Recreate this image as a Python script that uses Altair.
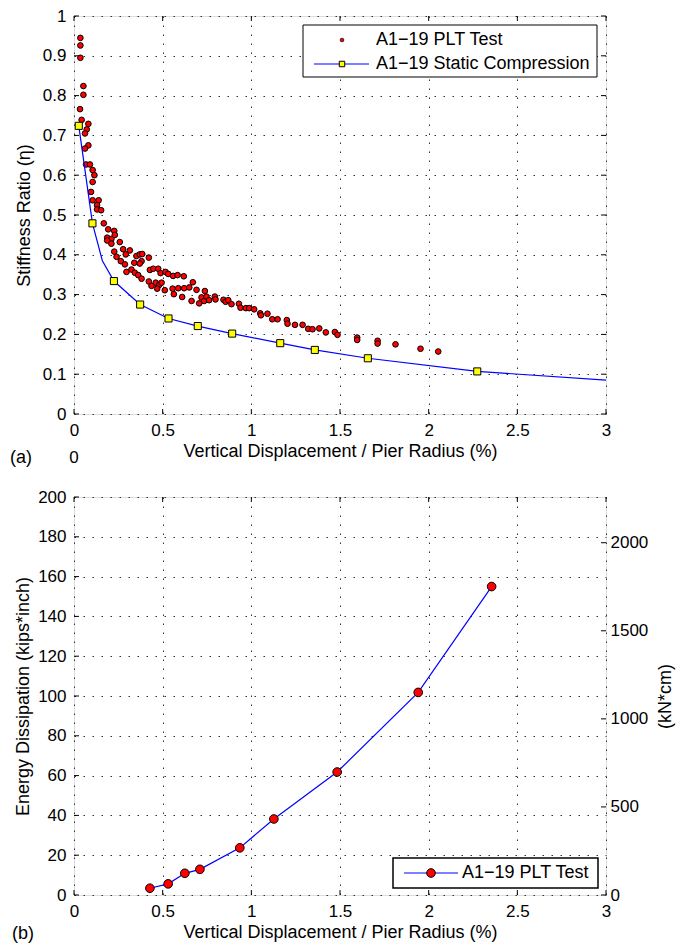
import altair as alt
import pandas as pd

# ---------------- data ----------------
plt_x = [
    0.036, 0.036, 0.036, 0.053, 0.053, 0.034, 0.043, 0.081, 0.072, 0.062,
    0.081, 0.062, 0.068, 0.090, 0.105, 0.115, 0.105, 0.096, 0.105, 0.139,
    0.130, 0.130, 0.153,
    0.168, 0.193, 0.227, 0.187, 0.211, 0.230, 0.187, 0.211, 0.258, 0.227,
    0.240, 0.277, 0.292, 0.315, 0.264, 0.287, 0.296, 0.324, 0.340, 0.352,
    0.371, 0.385, 0.381, 0.371, 0.422, 0.343, 0.362, 0.381, 0.422, 0.437,
    0.461, 0.480, 0.494, 0.469, 0.512, 0.428, 0.447, 0.475, 0.488, 0.516,
    0.531, 0.559, 0.584, 0.619, 0.556, 0.563, 0.588, 0.610, 0.621, 0.650,
    0.670, 0.663, 0.691, 0.706, 0.719, 0.738, 0.734, 0.747, 0.762, 0.794,
    0.798, 0.843, 0.855, 0.870, 0.888, 0.930, 0.939, 0.969, 0.988, 1.016,
    1.050, 1.054, 1.091, 1.118, 1.148, 1.200, 1.204, 1.246, 1.289, 1.321,
    1.345, 1.383, 1.420, 1.471, 1.486, 1.597, 1.597, 1.712, 1.712, 1.813,
    1.954, 2.054,
]
plt_y = [
    0.945, 0.926, 0.895, 0.824, 0.802, 0.766, 0.739, 0.729, 0.715, 0.705,
    0.675, 0.667, 0.627, 0.627, 0.613, 0.600, 0.583, 0.558, 0.537, 0.537,
    0.525, 0.514, 0.512,
    0.479, 0.464, 0.460, 0.443, 0.440, 0.450, 0.436, 0.428, 0.432, 0.408,
    0.395, 0.414, 0.401, 0.411, 0.384, 0.376, 0.357, 0.363, 0.380, 0.397,
    0.401, 0.402, 0.384, 0.378, 0.393, 0.355, 0.349, 0.340, 0.333, 0.322,
    0.330, 0.324, 0.330, 0.315, 0.311, 0.362, 0.365, 0.365, 0.354, 0.357,
    0.352, 0.347, 0.349, 0.346, 0.315, 0.301, 0.316, 0.294, 0.316, 0.318,
    0.331, 0.284, 0.312, 0.278, 0.293, 0.309, 0.284, 0.295, 0.286, 0.295,
    0.288, 0.287, 0.282, 0.286, 0.276, 0.277, 0.267, 0.266, 0.266, 0.263,
    0.253, 0.248, 0.252, 0.238, 0.238, 0.236, 0.227, 0.224, 0.224, 0.214,
    0.213, 0.215, 0.205, 0.206, 0.199, 0.192, 0.186, 0.184, 0.177, 0.175,
    0.164, 0.157,
]

static_x = [0.027, 0.104, 0.225, 0.373, 0.533, 0.698, 0.892, 1.163, 1.358, 1.657, 2.274]
static_y = [0.724, 0.479, 0.334, 0.275, 0.240, 0.221, 0.202, 0.178, 0.161, 0.140, 0.107]
# curve points without markers
static_curve_x = [0.16, 3.0]
static_curve_y = [0.385, 0.085]

energy_x = [0.428, 0.531, 0.625, 0.710, 0.935, 1.127, 1.484, 1.941, 2.355]
energy_y = [3.4, 5.6, 10.9, 12.9, 23.7, 38.2, 61.8, 101.8, 155.0]

x_ticks = [0, 0.5, 1, 1.5, 2, 2.5, 3]
top_y_ticks = [0, 0.1, 0.2, 0.3, 0.4, 0.5, 0.6, 0.7, 0.8, 0.9, 1]
bot_y_ticks = [0, 20, 40, 60, 80, 100, 120, 140, 160, 180, 200]
kn_ticks = [0, 500, 1000, 1500, 2000]
KIPIN_TO_KNCM = 11.298

legend_top = ["A1\u221219 PLT Test", "A1\u221219 Static Compression"]
legend_bot = ["A1\u221219 PLT Test"]
panel_tags = ["(a)", "(b)"]
x_title = "Vertical Displacement / Pier Radius (%)"

# ---------------- styling ----------------
W, H = 532, 398
FONT = "Liberation Sans"
TICK_FS = 17
TITLE_FS = 18
GRID = dict(grid=True, gridDash=[1.5, 7.5], gridColor="#333333", gridOpacity=1, gridWidth=1)

def axis(**kw):
    base = dict(ticks=False, domain=False, labelFontSize=TICK_FS, titleFontSize=TITLE_FS,
                titleFontWeight="normal", labelFont=FONT, titleFont=FONT,
                labelColor="black", titleColor="black", labelFlush=False, labelOverlap=False)
    base.update(kw)
    return alt.Axis(**base)

sx = alt.Scale(domain=[0, 3], nice=False, zero=False)
ax_x = axis(values=x_ticks, format="~g", title=x_title, labelPadding=8, titlePadding=4, **GRID)

one = pd.DataFrame({"k": [0]})
df_xt = pd.DataFrame({"x": x_ticks})


def X():
    return alt.X("x:Q", scale=sx, axis=ax_x)


def tick_layers(yenc_fn, ytick_vals, right=True):
    dfy = pd.DataFrame({"y": ytick_vals})
    layers = [
        alt.Chart(df_xt).mark_rule(color="black").encode(x=X(), y=alt.value(H), y2=alt.value(H - 5)),
        alt.Chart(df_xt).mark_rule(color="black").encode(x=X(), y=alt.value(0), y2=alt.value(5)),
        alt.Chart(dfy).mark_rule(color="black").encode(y=yenc_fn(), x=alt.value(0), x2=alt.value(5)),
    ]
    if right:
        layers.append(alt.Chart(dfy).mark_rule(color="black").encode(y=yenc_fn(), x=alt.value(W - 5), x2=alt.value(W)))
    return layers


def text_at(txt, x, y, fs, align="left"):
    return alt.Chart(pd.DataFrame({"t": [txt]})).mark_text(
        align=align, baseline="middle", fontSize=fs, font=FONT, color="black"
    ).encode(text="t:N", x=alt.value(x), y=alt.value(y))


# ---------------- top panel ----------------
sy_top = alt.Scale(domain=[0, 1], nice=False, zero=False)
ax_y_top = axis(values=top_y_ticks, format="~g", title="Stiffness Ratio (\u03b7)", labelPadding=8, titlePadding=9, **GRID)


def YT():
    return alt.Y("y:Q", scale=sy_top, axis=ax_y_top)


df_plt = pd.DataFrame({"x": plt_x, "y": plt_y})
df_static = pd.DataFrame({"x": static_x, "y": static_y})
df_static_line = pd.DataFrame({"x": static_x + static_curve_x, "y": static_y + static_curve_y})

top_layers = tick_layers(YT, top_y_ticks) + [
    alt.Chart(df_plt).mark_point(shape="circle", filled=True, fill="#ff0000", stroke="black",
                                 strokeWidth=1, size=32, opacity=1).encode(x=X(), y=YT()),
    alt.Chart(df_static_line).mark_line(color="#0000ff", strokeWidth=1.2, clip=True).encode(x=X(), y=YT()),
    alt.Chart(df_static).mark_point(shape="square", filled=True, fill="#ffff00", stroke="black",
                                    strokeWidth=1, size=50, opacity=1).encode(x=X(), y=YT()),
    # legend
    alt.Chart(one).mark_rect(fill="white", stroke="black", strokeWidth=1).encode(
        x=alt.value(229), x2=alt.value(523), y=alt.value(9), y2=alt.value(61)),
    alt.Chart(one).mark_point(shape="circle", filled=True, fill="#ff0000", stroke="black",
                              strokeWidth=0.7, size=14, opacity=1).encode(x=alt.value(268), y=alt.value(24)),
    alt.Chart(one).mark_rule(color="#0000ff", strokeWidth=1.2).encode(
        x=alt.value(240), x2=alt.value(295), y=alt.value(48)),
    alt.Chart(one).mark_point(shape="square", filled=True, fill="#ffff00", stroke="black",
                              strokeWidth=1, size=30, opacity=1).encode(x=alt.value(268), y=alt.value(48)),
    text_at(legend_top[0], 302, 24, TITLE_FS),
    text_at(legend_top[1], 302, 48, TITLE_FS),
    text_at(panel_tags[0], -53, 442, TITLE_FS, align="center"),
    text_at("0", 0, 442, TICK_FS, align="center"),
]
top = alt.layer(*top_layers).properties(width=W, height=H)

# ---------------- bottom panel ----------------
sy_bot = alt.Scale(domain=[0, 200], nice=False, zero=False)
ax_y_bot = axis(values=bot_y_ticks, format="d", title="Energy Dissipation (kips*inch)",
                labelPadding=8, titlePadding=5, **GRID)


def YB():
    return alt.Y("y:Q", scale=sy_bot, axis=ax_y_bot)


df_energy = pd.DataFrame({"x": energy_x, "y": energy_y})

bot_left_layers = tick_layers(YB, bot_y_ticks, right=False) + [
    alt.Chart(df_energy).mark_line(color="#0000ff", strokeWidth=1.2).encode(x=X(), y=YB()),
    alt.Chart(df_energy).mark_point(shape="circle", filled=True, fill="#ff0000", stroke="black",
                                    strokeWidth=1, size=75, opacity=1).encode(x=X(), y=YB()),
    alt.Chart(one).mark_rect(fill="white", stroke="black", strokeWidth=1.5).encode(
        x=alt.value(319), x2=alt.value(524), y=alt.value(361), y2=alt.value(391)),
    alt.Chart(one).mark_rule(color="#0000ff", strokeWidth=1.2).encode(
        x=alt.value(330), x2=alt.value(384), y=alt.value(376)),
    alt.Chart(one).mark_point(shape="circle", filled=True, fill="#ff0000", stroke="black",
                              strokeWidth=1, size=75, opacity=1).encode(x=alt.value(357), y=alt.value(376)),
    text_at(legend_bot[0], 388, 376, TITLE_FS),
    text_at(panel_tags[1], -51, 437, TITLE_FS, align="center"),
]
bot_left = alt.layer(*bot_left_layers)

ax_right = axis(values=kn_ticks, format="d", title="(kN*cm)", orient="right",
                labelPadding=4, titlePadding=27, titleAngle=270, grid=False)
df_kn = pd.DataFrame({"kn": kn_ticks})
bot_right = alt.Chart(df_kn).mark_rule(color="black").encode(
    y=alt.Y("kn:Q", scale=alt.Scale(domain=[0, 200 * KIPIN_TO_KNCM], nice=False, zero=False), axis=ax_right),
    x=alt.value(W - 5), x2=alt.value(W),
)

bottom = alt.layer(bot_left, bot_right).resolve_scale(y="independent").properties(width=W, height=H)

chart = alt.vconcat(top, bottom, spacing=83, bounds="flush").properties(
    padding={"left": 1, "top": -2, "right": 0, "bottom": 0}
).configure_view(stroke="black", strokeWidth=1).configure(font=FONT)

chart.save("out.html", embed_options={"renderer": "svg", "actions": False})
